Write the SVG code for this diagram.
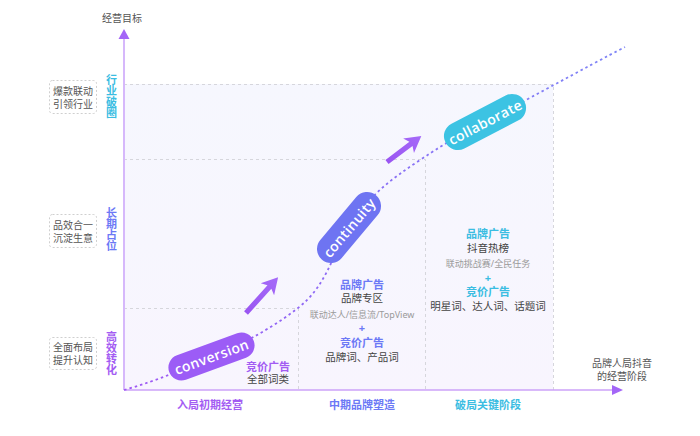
<svg xmlns="http://www.w3.org/2000/svg" width="700" height="436" viewBox="0 0 700 436">
<defs>
<linearGradient id="bg" x1="0" y1="84" x2="0" y2="390" gradientUnits="userSpaceOnUse"><stop offset="0" stop-color="#f6f7fe"/><stop offset="1" stop-color="#f8f5fe"/></linearGradient>
<linearGradient id="cv" x1="124" y1="0" x2="625" y2="0" gradientUnits="userSpaceOnUse"><stop offset="0" stop-color="#a058f4"/><stop offset="0.5" stop-color="#8a6ff5"/><stop offset="1" stop-color="#7f86f6"/></linearGradient>
<linearGradient id="ar" x1="0" y1="0" x2="1" y2="0"><stop offset="0" stop-color="#9a55f2"/><stop offset="1" stop-color="#a56af8"/></linearGradient>
</defs>
<style>
text{font-family:"Noto Sans","Noto Sans CJK SC",sans-serif;text-anchor:middle;dominant-baseline:central}
.grid{stroke:#d6d6dc;stroke-width:1;stroke-dasharray:3 3;fill:none}
.box{fill:#fff;stroke:#cfcfcf;stroke-width:1;stroke-dasharray:2 2}
.lbl{font-size:10px;fill:#555}
.vt{font-size:11px;font-weight:700;writing-mode:vertical-rl;text-anchor:start}
.ttl{font-size:11px;font-weight:700}
.body{font-size:10.5px;fill:#444}
.sm{font-size:9px;fill:#9a9a9a}
.pill{font-family:"Open Sans","Noto Sans",sans-serif;font-size:14px;font-weight:600;fill:#fff;letter-spacing:0.4px}
.ax{font-size:11px;font-weight:700}
</style>
<rect x="124" y="84" width="429" height="306" fill="url(#bg)"/>
<g id="grid">
<path class="grid" d="M124,84.5H553.5V390M124,159.5H425.5V390M124,308.5H298.5V390"/>
</g>
<g id="axes">
<line x1="124" y1="390" x2="124" y2="37" stroke="#d6b8fb" stroke-width="2"/>
<polygon points="124,29 118.5,39 129.5,39" fill="#a466f7"/>
<line x1="124" y1="390" x2="613" y2="390" stroke="#cca2f8" stroke-width="1.5"/>
<polygon points="623,390 612,385 612,395" fill="#a466f7"/>
<text x="122" y="18" class="lbl">经营目标</text>
<text x="622" y="363" class="lbl">品牌人局抖音</text>
<text x="622" y="375.5" class="lbl">的经营阶段</text>
</g>
<g id="connectors">
<path d="M124,390 C160,380 190,366 212,357 S270,330 298,308 S330,260 349,228 S390,180 420,160 S460,135 485,122 S590,65 625,47" fill="none" stroke="url(#cv)" stroke-width="1.8" stroke-dasharray="2.5 3"/>
<polygon transform="translate(246,313) rotate(-48)" points="0,-2.6 35,-2.6 32,-9 48,0 32,9 35,2.6 0,2.6" fill="url(#ar)"/>
<polygon transform="translate(387,162) rotate(-37)" points="0,-2.6 30,-2.6 27,-9 43,0 27,9 30,2.6 0,2.6" fill="url(#ar)"/>
</g>
<g id="row-top">
<rect class="box" x="49.5" y="80.5" width="47" height="33" rx="3"/>
<text x="73" y="91" class="lbl">爆款联动</text>
<text x="73" y="104" class="lbl">引领行业</text>
<text x="111" y="74.5" class="vt" fill="#3bbde2">行业破圈</text>
</g>
<g id="row-mid">
<rect class="box" x="49.5" y="214.5" width="47" height="33" rx="3"/>
<text x="73" y="225" class="lbl">品效合一</text>
<text x="73" y="238" class="lbl">沉淀生意</text>
<text x="111" y="207.5" class="vt" fill="#6c79f6">长期占位</text>
</g>
<g id="row-low">
<rect class="box" x="49.5" y="337.5" width="47" height="32" rx="3"/>
<text x="73" y="347" class="lbl">全面布局</text>
<text x="73" y="360" class="lbl">提升认知</text>
<text x="111" y="331.5" class="vt" fill="#a35cf3">高效转化</text>
</g>
<g id="conversion">
<g transform="translate(211.5,356.5) rotate(-20)">
<rect x="-45" y="-13" width="90" height="26" rx="13" fill="#9c5cf6"/>
<text class="pill" x="0" y="0">conversion</text>
</g>
<text x="268" y="366" class="ttl" fill="#a35cf3">竞价广告</text>
<text x="268" y="379" class="body">全部词类</text>
<text x="210" y="404" class="ax" fill="#a35cf3">入局初期经营</text>
</g>
<g id="continuity">
<g transform="translate(349,227.5) rotate(-50)">
<rect x="-42" y="-14" width="84" height="28" rx="14" fill="#6e74f2"/>
<text class="pill" x="0" y="0">continuity</text>
</g>
<text x="362" y="284" class="ttl" fill="#6c79f6">品牌广告</text>
<text x="362" y="298" class="body">品牌专区</text>
<text x="362" y="314" class="sm">联动达人/信息流/TopView</text>
<text x="362" y="327" class="ttl" fill="#6c79f6">+</text>
<text x="362" y="342" class="ttl" fill="#6c79f6">竞价广告</text>
<text x="362" y="357" class="body">品牌词、产品词</text>
<text x="362" y="404" class="ax" fill="#6c79f6">中期品牌塑造</text>
</g>
<g id="collaborate">
<g transform="translate(485,122) rotate(-27.5)">
<rect x="-44.5" y="-14" width="89" height="28" rx="14" fill="#3cc3e3"/>
<text class="pill" x="0" y="0">collaborate</text>
</g>
<text x="488" y="233" class="ttl" fill="#3bbde2">品牌广告</text>
<text x="488" y="248" class="body">抖音热榜</text>
<text x="488" y="263" class="sm">联动挑战赛/全民任务</text>
<text x="488" y="277" class="ttl" fill="#3bbde2">+</text>
<text x="488" y="291" class="ttl" fill="#3bbde2">竞价广告</text>
<text x="488" y="306" class="body">明星词、达人词、话题词</text>
<text x="488" y="404" class="ax" fill="#3bbde2">破局关键阶段</text>
</g>
</svg>
